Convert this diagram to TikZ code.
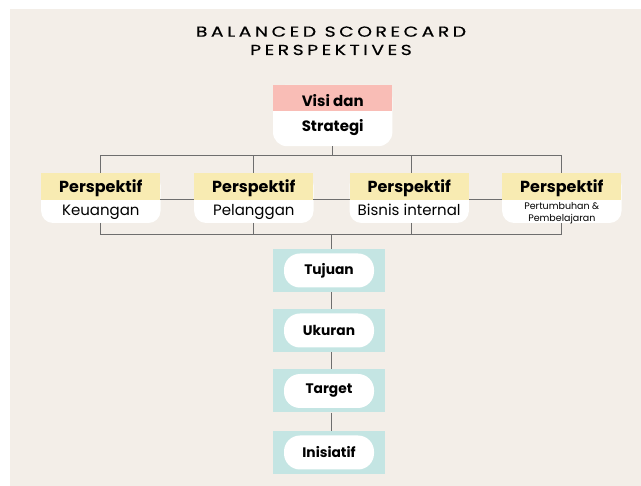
\documentclass[tikz,border=0pt]{standalone}
\usepackage{fontspec}
\setmainfont{Poppins}
\newfontfamily\titlefont[LetterSpace=24, FakeStretch=1.3, FakeBold=0.4]{Poppins}
\usetikzlibrary{backgrounds}
\definecolor{bgc}{HTML}{F3EEE8}
\definecolor{pinkc}{HTML}{F9BDB6}
\definecolor{yelc}{HTML}{F8EBB2}
\definecolor{tealc}{HTML}{C4E5E3}
\definecolor{linec}{HTML}{6E6E6E}
\tikzset{
  conn/.style={draw=linec, line width=1.1pt},
  toppart/.style={fill=#1, inner sep=0pt, minimum width=119pt},
  lbl/.style={anchor=base, inner sep=0pt, text=black},
  blbl/.style={lbl, font=\bfseries\fontsize{15}{18}\selectfont},
  plbl/.style={lbl, font=\bfseries\fontsize{16}{19}\selectfont},
  rlbl/.style={lbl, font=\fontsize{15}{18}\selectfont},
  slbl/.style={lbl, font=\fontsize{9.5}{11}\selectfont},
  tealbox/.style={fill=tealc, inner sep=0pt, minimum width=112pt, minimum height=43pt},
  pill/.style={fill=white, rounded corners=16pt, inner sep=0pt, minimum width=90pt, minimum height=34pt, font=\bfseries\fontsize{13.8}{16}\selectfont}
}
\begin{document}
\begin{tikzpicture}[x=1pt,y=-1pt]
\useasboundingbox (0,0) rectangle (641,486);

% title
\node[lbl, font=\titlefont\fontsize{14.5}{17}\selectfont] (t1) at (331,36.7) {BALANCED SCORECARD};
\node[lbl, font=\titlefont\fontsize{14.5}{17}\selectfont] (t2) at (331,55) {PERSPEKTIVES};

% Visi box
\node[toppart=pinkc, minimum height=26pt] (visiT) at (332.7,98) {};
\node[inner sep=0pt, minimum width=119pt, minimum height=35pt] (visiB) at (332.7,128.5) {};
\node[blbl] (visiA) at (332.7,106.7) {Visi dan};
\node[blbl] (visiS) at (332.7,131.7) {Strategi};

% Perspektif boxes
\foreach \n/\x in {p1/100.8, p2/253.8, p3/409.2, p4/561.8}{
  \node[toppart=yelc, minimum height=26.5pt] (\n T) at (\x,186.5) {};
  \node[inner sep=0pt, minimum width=119pt, minimum height=23pt] (\n B) at (\x,211.3) {};
  \node[plbl] (\n L) at (\x,192.3) {Perspektif};
}
\node[rlbl] (p1S) at (100.8,216) {Keuangan};
\node[rlbl] (p2S) at (253.8,216) {Pelanggan};
\node[rlbl] (p3S) at (409.2,216) {Bisnis internal};
\node[slbl] (p4S) at (561.8,209.3) {Pertumbuhan \&};
\node[slbl] (p4R) at (561.8,221.2) {Pembelajaran};

% lower chain
\node[tealbox] (tuj) at (329,270.5) {};
\node[pill] (tujP) at (tuj) {Tujuan};
\node[tealbox] (uku) at (329,330.5) {};
\node[pill] (ukuP) at (uku) {Ukuran};
\node[tealbox] (tar) at (329,391) {};
\node[pill] (tarP) at (tar) {Target};
\node[tealbox] (ini) at (329,452.5) {};
\node[pill] (iniP) at (ini) {Inisiatif};

\begin{scope}[on background layer]
  \fill[bgc] (10,9) rectangle (641,486);
  % white rounded bodies
  \fill[white, rounded corners=14pt] (visiT.north west) rectangle (visiB.south east);
  \foreach \n in {p1,p2,p3,p4}{
    \fill[white, rounded corners=12pt] (\n T.north west) rectangle (\n B.south east);
  }
  % connectors
  \draw[conn] (visiB.south) -- ++(0,9.5) coordinate (hub);
  \draw[conn] (p1T.north) |- (hub) -| (p4T.north);
  \draw[conn] (p2T.north) -- (p2T.north |- hub);
  \draw[conn] (411.5,0 |- p3T.north) -- (411.5,0 |- hub);
  \draw[conn] (p1T.south) -- (p4T.south);
  \draw[conn] (p1B.south) -- ++(0,11.5) coordinate (low) -| (p4B.south);
  \draw[conn] (p2B.south) -- (p2B.south |- low);
  \draw[conn] (411.5,0 |- p3B.south) -- (411.5,0 |- low);
  \draw[conn] (331.5,0 |- low) -- (331.5,0 |- tuj.north);
  \draw[conn] (331.5,0 |- tuj.south) -- (331.5,0 |- uku.north);
  \draw[conn] (331.5,0 |- uku.south) -- (331.5,0 |- tar.north);
  \draw[conn] (331.5,0 |- tar.south) -- (331.5,0 |- ini.north);
\end{scope}
\end{tikzpicture}
\end{document}
